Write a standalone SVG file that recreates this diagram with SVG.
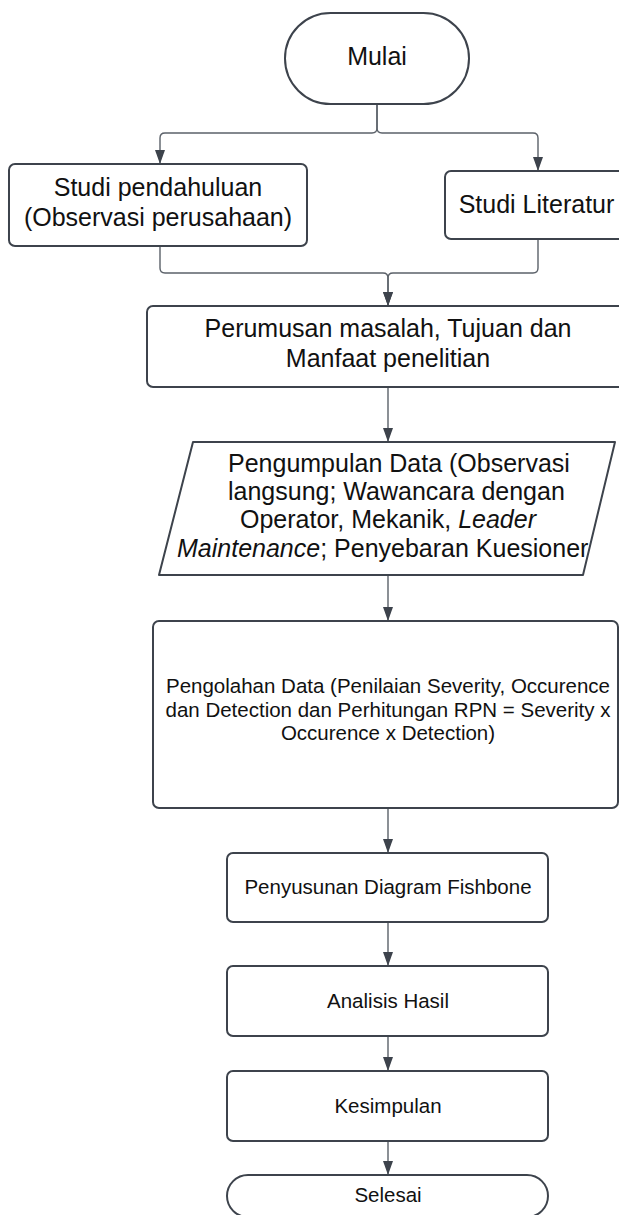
<svg xmlns="http://www.w3.org/2000/svg" width="619" height="1215" viewBox="0 0 619 1215">
<style>
.box{fill:#ffffff;stroke:#3d434c;stroke-width:2;stroke-linejoin:round}
.con{fill:none;stroke:#5b6169;stroke-width:1.4}
.t{font-family:"Liberation Sans",Arial,sans-serif;fill:#111;text-anchor:middle}
.l{font-size:25px}
.s{font-size:20.5px}
.it{font-style:italic}
</style>
<defs>
<marker id="a" markerUnits="userSpaceOnUse" markerWidth="16" markerHeight="12" refX="15" refY="6" orient="auto" viewBox="0 0 16 12">
<path d="M1,1 L15,6 L1,11 Z" fill="#3d434c"/>
</marker>
</defs>
<rect width="619" height="1215" fill="#ffffff"/>
<g id="connectors">
<path class="con" d="M377,104 V128 Q377,133 372,133 H165 Q160,133 160,138 V164" marker-end="url(#a)"/>
<path class="con" d="M377,104 V128 Q377,133 382,133 H533 Q538,133 538,138 V171" marker-end="url(#a)"/>
<path class="con" d="M160,246 V268 Q160,273 165,273 H383 Q388,273 388,278 V306" marker-end="url(#a)"/>
<path class="con" d="M538,239 V268 Q538,273 533,273 H393 Q388,273 388,278 V306" marker-end="url(#a)"/>
<path class="con" d="M388,387 V442" marker-end="url(#a)"/>
<path class="con" d="M388,575 V621" marker-end="url(#a)"/>
<path class="con" d="M388,808 V853" marker-end="url(#a)"/>
<path class="con" d="M388,922 V966" marker-end="url(#a)"/>
<path class="con" d="M388,1036 V1071" marker-end="url(#a)"/>
<path class="con" d="M388,1141 V1175" marker-end="url(#a)"/>
</g>
<g id="mulai">
<rect class="box" x="285" y="13" width="184" height="91" rx="45.5"/>
<text class="t l" x="377" y="65">Mulai</text>
</g>
<g id="studi-pendahuluan">
<rect class="box" x="9" y="164" width="298" height="82" rx="6"/>
<text class="t l" x="158" y="196">Studi pendahuluan</text>
<text class="t l" x="158" y="226">(Observasi perusahaan)</text>
</g>
<g id="studi-literatur">
<rect class="box" x="445" y="171" width="186" height="68" rx="6"/>
<text class="t l" x="536.5" y="213">Studi Literatur</text>
</g>
<g id="perumusan">
<rect class="box" x="147" y="306" width="482" height="81" rx="6"/>
<text class="t l" x="388" y="337">Perumusan masalah, Tujuan dan</text>
<text class="t l" x="388" y="367">Manfaat penelitian</text>
</g>
<g id="pengumpulan">
<path class="box" d="M193,442 L615,442 L583,575 L159,575 Z"/>
<text class="t l" style="text-anchor:start" x="228" y="472">Pengumpulan Data (Observasi</text>
<text class="t l" style="text-anchor:start" x="228" y="500">langsung; Wawancara dengan</text>
<text class="t l" style="text-anchor:start" x="240" y="528">Operator, Mekanik, <tspan class="it">Leader</tspan></text>
<text class="t l" style="text-anchor:start" x="177" y="557"><tspan class="it">Maintenance</tspan>; Penyebaran Kuesioner</text>
</g>
<g id="pengolahan">
<rect class="box" x="153" y="621" width="465" height="187" rx="6"/>
<text class="t s" x="388" y="693">Pengolahan Data (Penilaian Severity, Occurence</text>
<text class="t s" x="388" y="717">dan Detection dan Perhitungan RPN = Severity x</text>
<text class="t s" x="388" y="740">Occurence x Detection)</text>
</g>
<g id="penyusunan">
<rect class="box" x="227" y="853" width="321" height="69" rx="6"/>
<text class="t s" x="388" y="894">Penyusunan Diagram Fishbone</text>
</g>
<g id="analisis">
<rect class="box" x="227" y="966" width="321" height="70" rx="6"/>
<text class="t s" x="388" y="1008">Analisis Hasil</text>
</g>
<g id="kesimpulan">
<rect class="box" x="227" y="1071" width="321" height="70" rx="6"/>
<text class="t s" x="388" y="1113">Kesimpulan</text>
</g>
<g id="selesai">
<rect class="box" x="227" y="1175" width="321" height="42" rx="21"/>
<text class="t s" x="388" y="1202">Selesai</text>
</g>
</svg>
